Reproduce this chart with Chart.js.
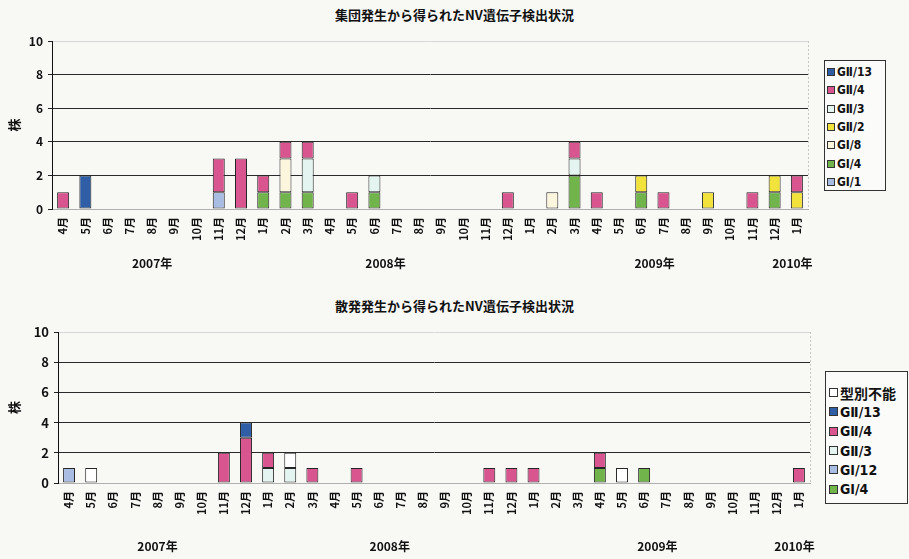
<!DOCTYPE html>
<html><head><meta charset="utf-8">
<script src="https://cdn.jsdelivr.net/npm/chart.js@4.4.0/dist/chart.umd.min.js"></script>
<style>
html,body{margin:0;padding:0;background:#f8f8f5;}
body{width:909px;height:559px;position:relative;overflow:hidden;font-family:"Noto Sans CJK JP","Noto Sans",sans-serif;}
canvas{position:absolute;left:0;}
.title{position:absolute;left:0;width:909px;text-align:center;font-weight:bold;font-size:13px;color:#111;}
.legend{position:absolute;border:1px solid #333;background:#fbfbf9;box-sizing:border-box;font-family:"DejaVu Sans Condensed","DejaVu Sans","Noto Sans CJK JP",sans-serif;}
.legend div{display:flex;align-items:center;white-space:nowrap;color:#111;}
.legend span.sw{display:inline-block;border:1px solid #333;box-sizing:border-box;margin-right:2px;}
</style></head>
<body>
<div class="title" id="t1" style="top:5px;"></div>
<canvas id="c1" width="909" height="285" style="top:0;"></canvas>
<div class="title" id="t2" style="top:296px;"></div>
<canvas id="c2" width="909" height="274" style="top:285px;"></canvas>
<div class="legend" id="lg1" style="left:824px;top:60px;width:62px;height:131px;padding:2px 0 0 2px;"></div>
<div class="legend" id="lg2" style="left:825px;top:371px;width:83px;height:133px;padding:11px 0 0 3px;"></div>
<script>
// ---- data ----
const title1 = '集団発生から得られたNV遺伝子検出状況';
const title2 = '散発発生から得られたNV遺伝子検出状況';
const yTitle = '株';
const months = ['4月','5月','6月','7月','8月','9月','10月','11月','12月',
  '1月','2月','3月','4月','5月','6月','7月','8月','9月','10月','11月','12月',
  '1月','2月','3月','4月','5月','6月','7月','8月','9月','10月','11月','12月',
  '1月'];
const years = ['2007年','2008年','2009年','2010年'];
const yTicks = [0,2,4,6,8,10];

// 集団発生 (stack order bottom -> top)
const topNames = ['GⅠ/1','GⅠ/4','GⅠ/8','GⅡ/2','GⅡ/3','GⅡ/4','GⅡ/13'];
const top_GI1  = [0,0,0,0,0,0,0,1,0, 0,0,0,0,0,0,0,0,0,0,0,0, 0,0,0,0,0,0,0,0,0,0,0,0, 0];
const top_GI4  = [0,0,0,0,0,0,0,0,0, 1,1,1,0,0,1,0,0,0,0,0,0, 0,0,2,0,0,1,0,0,0,0,0,1, 0];
const top_GI8  = [0,0,0,0,0,0,0,0,0, 0,2,0,0,0,0,0,0,0,0,0,0, 0,1,0,0,0,0,0,0,0,0,0,0, 0];
const top_GII2 = [0,0,0,0,0,0,0,0,0, 0,0,0,0,0,0,0,0,0,0,0,0, 0,0,0,0,0,1,0,0,1,0,0,1, 1];
const top_GII3 = [0,0,0,0,0,0,0,0,0, 0,0,2,0,0,1,0,0,0,0,0,0, 0,0,1,0,0,0,0,0,0,0,0,0, 0];
const top_GII4 = [1,0,0,0,0,0,0,2,3, 1,1,1,0,1,0,0,0,0,0,0,1, 0,0,1,1,0,0,1,0,0,0,1,0, 1];
const top_GII13= [0,2,0,0,0,0,0,0,0, 0,0,0,0,0,0,0,0,0,0,0,0, 0,0,0,0,0,0,0,0,0,0,0,0, 0];

// 散発発生 (stack order bottom -> top)
const botNames = ['GⅠ/4','GⅠ/12','GⅡ/3','GⅡ/4','GⅡ/13','型別不能'];
const bot_GI4  = [0,0,0,0,0,0,0,0,0, 0,0,0,0,0,0,0,0,0,0,0,0, 0,0,0,1,0,1,0,0,0,0,0,0, 0];
const bot_GI12 = [1,0,0,0,0,0,0,0,0, 0,0,0,0,0,0,0,0,0,0,0,0, 0,0,0,0,0,0,0,0,0,0,0,0, 0];
const bot_GII3 = [0,0,0,0,0,0,0,0,0, 1,1,0,0,0,0,0,0,0,0,0,0, 0,0,0,0,0,0,0,0,0,0,0,0, 0];
const bot_GII4 = [0,0,0,0,0,0,0,2,3, 1,0,1,0,1,0,0,0,0,0,1,1, 1,0,0,1,0,0,0,0,0,0,0,0, 1];
const bot_GII13= [0,0,0,0,0,0,0,0,1, 0,0,0,0,0,0,0,0,0,0,0,0, 0,0,0,0,0,0,0,0,0,0,0,0, 0];
const bot_UNT  = [0,1,0,0,0,0,0,0,0, 0,1,0,0,0,0,0,0,0,0,0,0, 0,0,0,0,1,0,0,0,0,0,0,0, 0];

// ---- styles ----
const topColors = ['#a9bde3','#72b44c','#fdf6df','#f1e23c','#e3f4f1','#d9558f','#2f5ea6'];
const botColors = ['#72b44c','#a9bde3','#e3f4f1','#d9558f','#2f5ea6','#ffffff'];
const FONT = '"Noto Sans CJK JP","Noto Sans",sans-serif';

document.getElementById('t1').textContent = title1;
document.getElementById('t2').textContent = title2;

function mk(names, series, colors){
  return names.map((n,i)=>({
    label:n,
    data:series[i].map(v=>v===0?null:v),
    backgroundColor:colors[i],
    borderColor:'#262626',
    borderWidth:1,
    borderSkipped:false,
    barPercentage:0.54,
    categoryPercentage:1
  }));
}

function yearPlugin(yPix){
  const pos=[4,14.5,26.6,32.8];
  return {
    id:'years',
    afterDraw(chart){
      const {ctx,chartArea}=chart;
      const xs=chart.scales.x;
      const step=(chartArea.right-chartArea.left)/months.length;
      ctx.save();
      ctx.strokeStyle='#c8c8c8';ctx.lineWidth=1;ctx.setLineDash([2,2]);
      ctx.beginPath();ctx.moveTo(Math.round(chartArea.right)+0.5,chartArea.top);
      ctx.lineTo(Math.round(chartArea.right)+0.5,chartArea.bottom);ctx.stroke();
      ctx.setLineDash([]);
      ctx.fillStyle='#111';
      ctx.font='bold 12px '+FONT;
      ctx.textAlign='center';ctx.textBaseline='middle';
      years.forEach((y,i)=>{
        const x=xs.getPixelForValue(0)+pos[i]*step;
        ctx.fillText(y,x,yPix);
      });
      ctx.restore();
    }
  };
}

function build(id, names, series, colors, pad, yW, xH, yFont, yearY){
  new Chart(document.getElementById(id),{
    type:'bar',
    data:{labels:months,datasets:mk(names,series,colors)},
    options:{
      responsive:false,animation:false,
      layout:{padding:pad},
      plugins:{legend:{display:false},title:{display:false},tooltip:{enabled:false}},
      scales:{
        x:{
          stacked:true,
          grid:{display:false,drawTicks:false},
          border:{display:true,color:'#b0b0b0'},
          ticks:{autoSkip:false,minRotation:90,maxRotation:90,padding:8,color:'#111',
            font:{family:FONT,size:11,weight:'bold'}},
          afterFit(s){s.height=xH;}
        },
        y:{
          stacked:true,min:0,max:10,
          afterBuildTicks(s){s.ticks=yTicks.map(v=>({value:v}));},
          grid:{
            color:(c)=>c.tick&&c.tick.value===10?'#d8d8d8':(c.tick&&c.tick.value===0?'#b0b0b0':'#2a2a2a'),
            tickColor:'#222',tickLength:4,drawTicks:true
          },
          border:{display:true,color:'#111',width:1},
          ticks:{padding:5,color:'#111',font:{family:FONT,size:yFont,weight:'bold'}},
          title:{display:true,text:yTitle,color:'#111',padding:{top:6,bottom:0},
            font:{family:FONT,size:13,weight:'bold'}},
          afterFit(s){s.width=yW;}
        }
      }
    },
    plugins:[yearPlugin(yearY)]
  });
}

build('c1', topNames,
  [top_GI1,top_GI4,top_GI8,top_GII2,top_GII3,top_GII4,top_GII13],
  topColors, {top:41,right:101,left:0,bottom:0}, 52, 76, 12, 263);
build('c2', botNames,
  [bot_GI4,bot_GI12,bot_GII3,bot_GII4,bot_GII13,bot_UNT],
  botColors, {top:47,right:99,left:0,bottom:0}, 58, 76, 13, 261);

function legend(id, names, colors, fs, lh, sw){
  const el=document.getElementById(id);
  for(let i=names.length-1;i>=0;i--){
    const d=document.createElement('div');
    d.style.height=lh+'px';d.style.fontSize=fs+'px';d.style.fontWeight='bold';
    const s=document.createElement('span');s.className='sw';
    s.style.width=sw+'px';s.style.height=sw+'px';s.style.background=colors[i];
    d.appendChild(s);d.appendChild(document.createTextNode(names[i]));
    el.appendChild(d);
  }
}
legend('lg1', topNames, topColors, 12, 18.3, 8);
legend('lg2', botNames, botColors, 14, 19.3, 9);
</script>
</body></html>
